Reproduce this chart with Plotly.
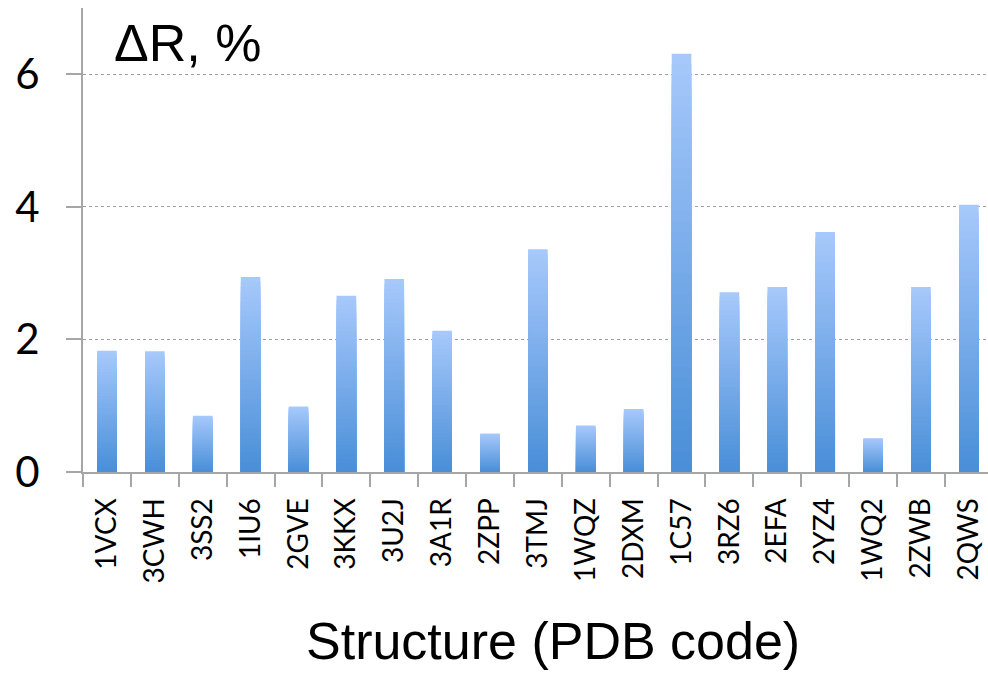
import plotly.graph_objects as go

# PDB structures and the change in R (%) for each
structures = ["1VCX", "3CWH", "3SS2", "1IU6", "2GVE", "3KKX", "3U2J", "3A1R", "2ZPP",
              "3TMJ", "1WQZ", "2DXM", "1C57", "3RZ6", "2EFA", "2YZ4", "1WQ2", "2ZWB", "2QWS"]
delta_r = [1.83, 1.82, 0.85, 2.94, 0.99, 2.66, 2.91, 2.13, 0.58,
           3.36, 0.70, 0.95, 6.31, 2.71, 2.79, 3.62, 0.51, 2.79, 4.03]
y_ticks = [0, 2, 4, 6]

W, H = 988, 676
L, R, T, B = 83, 0, 8, 204

# vertical gradient: light at the top of each bar, darker towards its base
top_rgb = (166, 200, 251)
bottom_rgb = (74, 143, 216)
N = 40

fig = go.Figure()
for k in range(N):
    f = k / (N - 1)
    c = tuple(round(top_rgb[i] + (bottom_rgb[i] - top_rgb[i]) * f) for i in range(3))
    frac = (N - k) / N
    fig.add_trace(go.Bar(
        x=structures,
        y=[v * frac for v in delta_r],
        marker=dict(color=f"rgb{c}", line=dict(width=0)),
        width=0.41,
        hoverinfo="skip" if k else "x+y",
        showlegend=False,
    ))

fig.update_layout(
    width=W, height=H,
    margin=dict(l=L, r=R, t=T, b=B, pad=0),
    paper_bgcolor="white", plot_bgcolor="white",
    barmode="overlay",
    showlegend=False,
    font=dict(family="Lato, sans-serif", color="black"),
)

fig.update_xaxes(
    type="category",
    range=[-0.5, 18.4],
    showgrid=False,
    showline=True, linecolor="#a6a6a6", linewidth=2,
    ticks="outside", tickson="boundaries", ticklen=13, tickwidth=2, tickcolor="#a6a6a6",
    tickangle=-90,
    tickfont=dict(family="Lato", size=28, color="black"),
    ticklabelstandoff=13,
)

fig.update_yaxes(
    range=[0, 7],
    tickvals=y_ticks,
    ticktext=[str(t) for t in y_ticks],
    showgrid=True, gridcolor="#a0a0a0", gridwidth=1, griddash="dot",
    zeroline=False,
    showline=True, linecolor="#a6a6a6", linewidth=2,
    ticks="outside", ticklen=15, tickwidth=2, tickcolor="#a6a6a6",
    tickfont=dict(family="Lato", size=42, color="black"),
    ticklabelstandoff=18,
)

plot_w = W - L - R
plot_h = H - T - B

def px_to_paper(x_px, y_px):
    return (x_px - L) / plot_w, (H - B - y_px) / plot_h

ax, ay = px_to_paper(112, 43)
fig.add_annotation(
    text="ΔR, %", xref="paper", yref="paper", x=ax, y=ay,
    xanchor="left", yanchor="middle", showarrow=False,
    font=dict(family="Liberation Sans, Arial", size=52, color="black"),
)

tx, ty = px_to_paper(553, 641)
fig.add_annotation(
    text="Structure (PDB code)", xref="paper", yref="paper", x=tx, y=ty,
    xanchor="center", yanchor="middle", showarrow=False,
    font=dict(family="Liberation Sans, Arial", size=52, color="black"),
)

fig.write_html("out.html")
